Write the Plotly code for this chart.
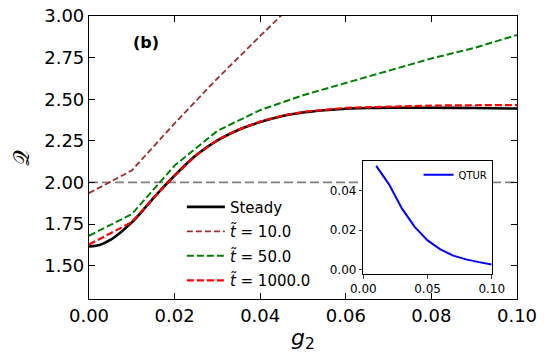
import plotly.graph_objects as go

# main panel data
g_steady = [0.0, 0.0025, 0.005, 0.0075, 0.01, 0.0125, 0.015, 0.0175, 0.02, 0.025, 0.03, 0.035,
            0.04, 0.045, 0.05, 0.055, 0.06, 0.065, 0.07, 0.08, 0.09, 0.10]
q_steady = [1.615, 1.625, 1.655, 1.703, 1.760, 1.830, 1.905, 1.975, 2.042, 2.163, 2.253, 2.317,
            2.363, 2.398, 2.420, 2.434, 2.443, 2.447, 2.449, 2.449, 2.447, 2.444]

g_t10 = [0.0, 0.01, 0.02, 0.03, 0.04, 0.05]
q_t10 = [1.936, 2.072, 2.355, 2.625, 2.880, 3.130]

g_t50 = [0.0, 0.01, 0.02, 0.03, 0.04, 0.05, 0.06, 0.07, 0.08, 0.09, 0.10]
q_t50 = [1.680, 1.810, 2.102, 2.310, 2.435, 2.524, 2.598, 2.672, 2.745, 2.808, 2.886]

g_t1000 = [0.0, 0.01, 0.015, 0.02, 0.025, 0.03, 0.035, 0.04, 0.045, 0.05, 0.06, 0.07, 0.08, 0.09, 0.10]
q_t1000 = [1.627, 1.762, 1.905, 2.040, 2.163, 2.255, 2.319, 2.366, 2.400, 2.424, 2.448, 2.457,
           2.462, 2.464, 2.465]

# inset data
g_qtur = [0.01, 0.02, 0.03, 0.04, 0.05, 0.06, 0.07, 0.08, 0.09, 0.10]
qtur = [0.0528, 0.0434, 0.0311, 0.0217, 0.0148, 0.0102, 0.0070, 0.0051, 0.0037, 0.0025]

q_ref = 2.0
labels = ["Steady", "<i>t̃</i> = 10.0", "<i>t̃</i> = 50.0", "<i>t̃</i> = 1000.0"]

FONT = "DejaVu Sans"

fig = go.Figure()
fig.add_trace(go.Scatter(x=g_steady, y=q_steady, mode="lines", name=labels[0], legendgroup="a",
                         line=dict(color="black", width=2.6, shape="spline", smoothing=0.6)))
fig.add_trace(go.Scatter(x=g_t10, y=q_t10, mode="lines", name=labels[1], legendgroup="b",
                         line=dict(color="brown", width=1.8, dash="6px,3px")))
fig.add_trace(go.Scatter(x=g_t50, y=q_t50, mode="lines", name=labels[2], legendgroup="c",
                         line=dict(color="green", width=2.0, dash="7px,3px")))
fig.add_trace(go.Scatter(x=g_t1000, y=q_t1000, mode="lines", name=labels[3], legendgroup="d",
                         line=dict(color="red", width=2.2, dash="7px,3px")))

fig.add_trace(go.Scatter(x=g_qtur, y=qtur, mode="lines", name="QTUR", xaxis="x2", yaxis="y2",
                         legend="legend2", line=dict(color="blue", width=2)))

# horizontal reference line, then white inset background on top of it
fig.add_shape(type="line", xref="x", yref="y", x0=0, x1=0.1, y0=q_ref, y1=q_ref, layer="below",
              line=dict(color="gray", width=1.8, dash="9px,4px"))
fig.add_shape(type="rect", xref="paper", yref="paper", x0=0.641, x1=0.941, y0=0.088, y1=0.489,
              layer="below", fillcolor="white", line=dict(width=0))

axis_common = dict(showgrid=False, zeroline=False, showline=True, linecolor="black", linewidth=1.2,
                   ticks="inside", ticklen=6, tickwidth=1.2, tickcolor="black", mirror="ticks",
                   automargin=False, tickfont=dict(family=FONT, size=18, color="black"))
inset_common = dict(showgrid=False, zeroline=False, showline=True, linecolor="black", linewidth=1,
                    mirror=True, ticks="outside", ticklen=3.5, tickwidth=1, automargin=False,
                    tickformat=".2f", tickfont=dict(family=FONT, size=12, color="black"))

fig.update_layout(
    width=548, height=360,
    margin=dict(l=89, r=31, t=16, b=61, autoexpand=False),
    plot_bgcolor="white", paper_bgcolor="white",
    font=dict(family=FONT, color="black"),
    xaxis=dict(axis_common, range=[0, 0.1], dtick=0.02, tick0=0, tickformat=".2f",
               title=dict(text="<i>g</i><sub>2</sub>", font=dict(size=22), standoff=4)),
    yaxis=dict(axis_common, range=[1.3, 3.0], dtick=0.25, tick0=1.5, tickformat=".2f",
               title=dict(text="𝒬", font=dict(size=22), standoff=8)),
    xaxis2=dict(inset_common, domain=[0.641, 0.941], anchor="y2", range=[0, 0.1], dtick=0.05),
    yaxis2=dict(inset_common, domain=[0.088, 0.489], anchor="x2", range=[-0.0024, 0.0555],
                dtick=0.02),
    legend=dict(x=0.217, y=0.383, xanchor="left", yanchor="top", bgcolor="rgba(0,0,0,0)",
                font=dict(family=FONT, size=15, color="black"), tracegroupgap=2, itemwidth=38),
    legend2=dict(x=0.77, y=0.49, xanchor="left", yanchor="top", bgcolor="rgba(0,0,0,0)",
                 font=dict(family=FONT, size=10, color="black")),
    annotations=[dict(text="<b>(b)</b>", x=0.133, y=0.905, xref="paper", yref="paper",
                      xanchor="center", yanchor="middle", showarrow=False,
                      font=dict(family=FONT, size=16, color="black"))],
)

fig.write_html("out.html", config={"displayModeBar": False},
               post_script="document.body.style.margin='0';")
